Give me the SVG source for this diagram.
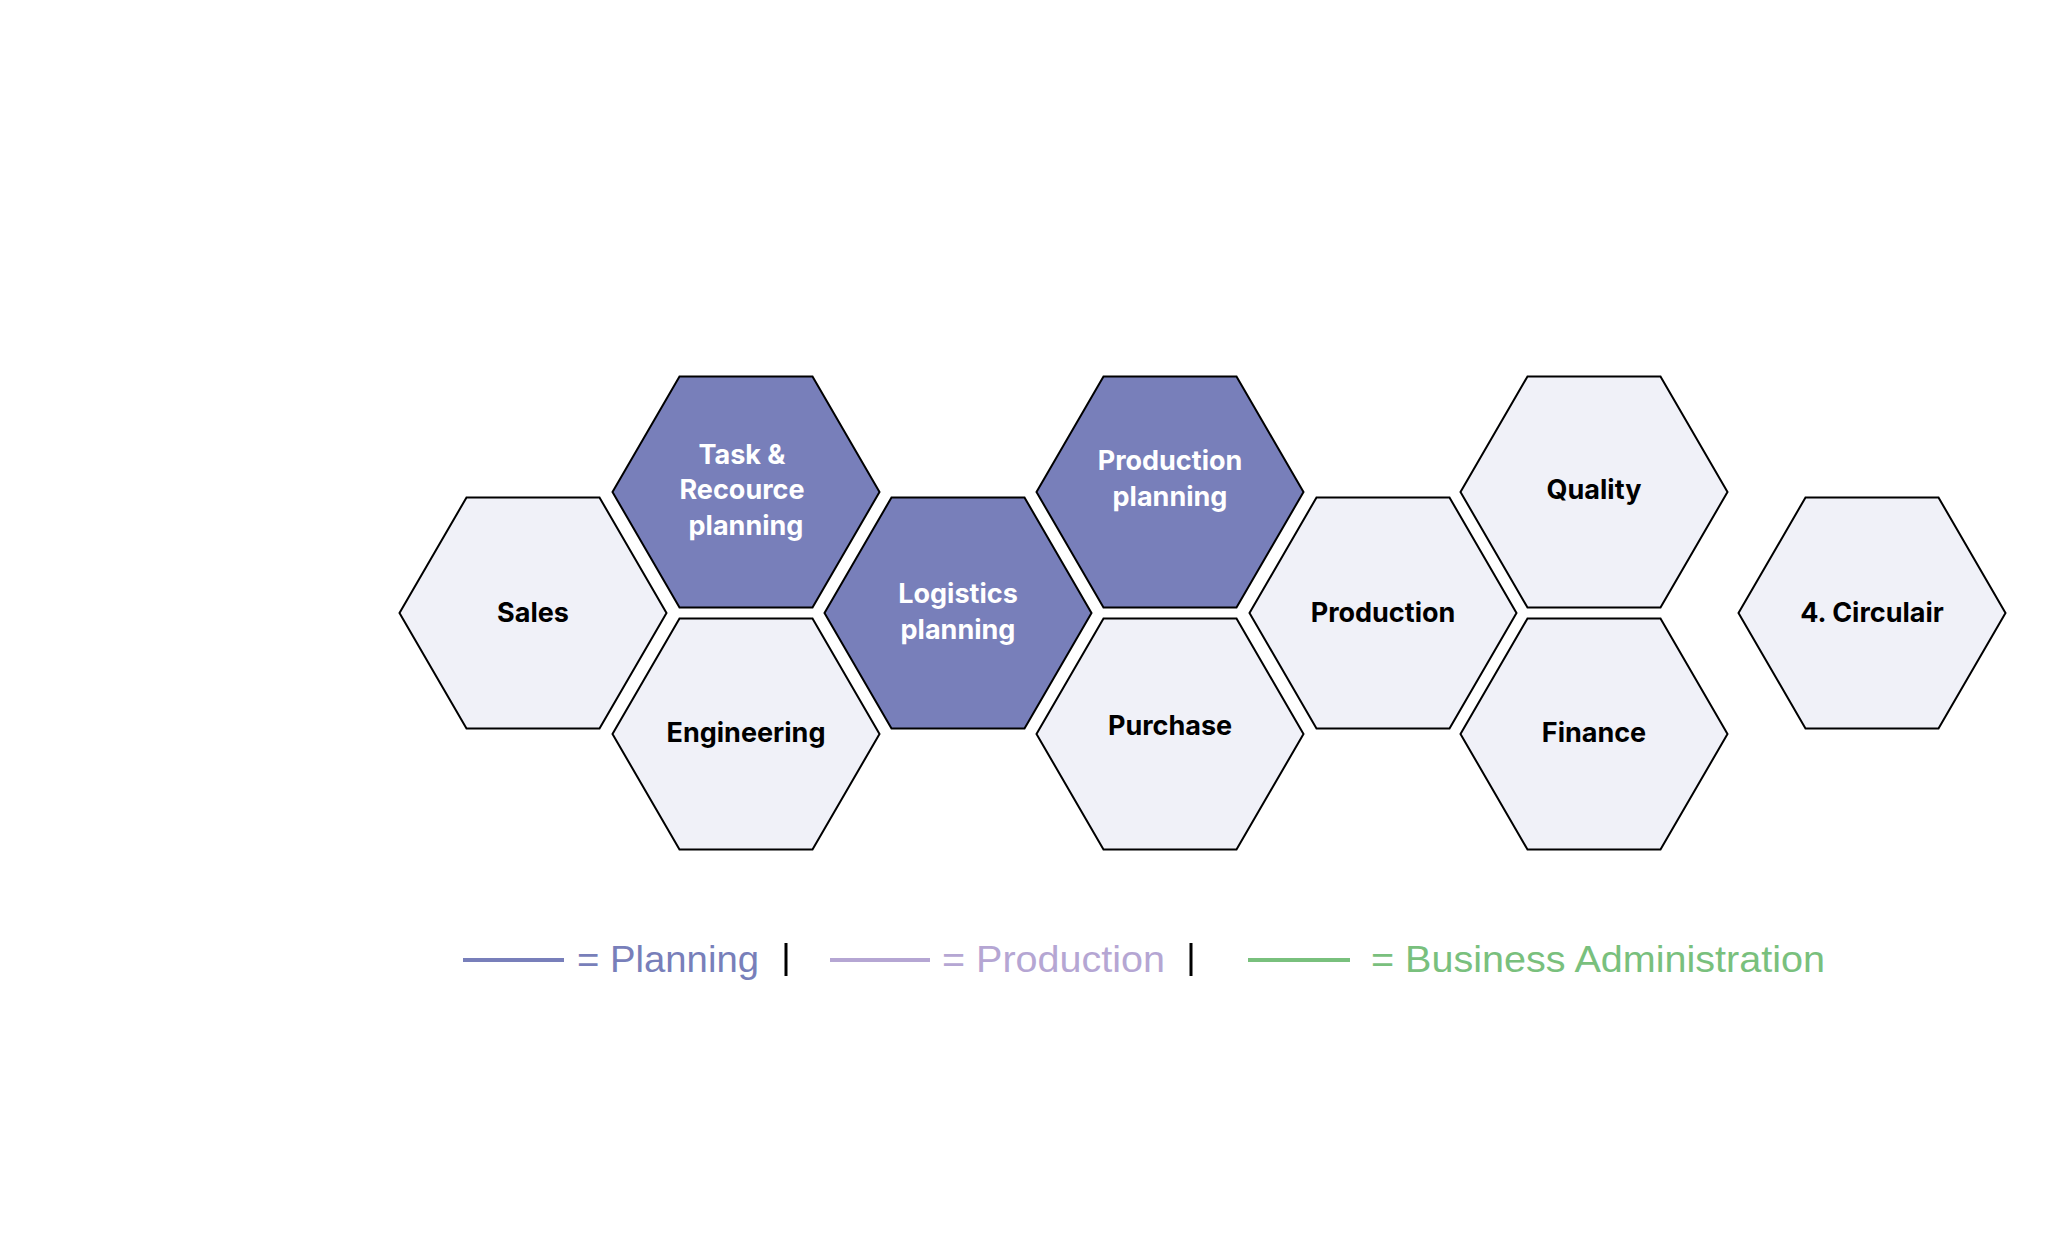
<svg xmlns="http://www.w3.org/2000/svg" width="2067" height="1241" viewBox="0 0 2067 1241">
<style>
.h{stroke:#000;stroke-width:2;stroke-linejoin:miter}
.l{fill:#f0f1f8}.d{fill:#787fba}
.t{font-family:Inter,"Liberation Sans",sans-serif;font-weight:700;font-size:27px;text-anchor:middle}
.tb{fill:#000}.tw{fill:#fff}
.lg{font-family:"Liberation Sans",sans-serif;font-size:37px}
</style>
<defs><polygon id="hx" points="-133.5,0 -66.5,-115.5 66.5,-115.5 133.5,0 66.5,115.5 -66.5,115.5"/></defs>
<rect width="2067" height="1241" fill="#fff"/>
<g id="sales"><use href="#hx" x="533" y="613" class="h l"/><text class="t tb" x="533" y="622">Sales</text></g>
<g id="task"><use href="#hx" x="746" y="492" class="h d"/><text class="t tw" x="746"><tspan x="742" y="464">Task &amp;</tspan><tspan x="742" y="499">Recource</tspan><tspan x="746" y="535">planning</tspan></text></g>
<g id="engineering"><use href="#hx" x="746" y="734" class="h l"/><text class="t tb" x="746" y="742">Engineering</text></g>
<g id="logistics"><use href="#hx" x="958" y="613" class="h d"/><text class="t tw"><tspan x="958" y="603">Logistics</tspan><tspan x="958" y="639">planning</tspan></text></g>
<g id="prodplanning"><use href="#hx" x="1170" y="492" class="h d"/><text class="t tw"><tspan x="1170" y="470">Production</tspan><tspan x="1170" y="506">planning</tspan></text></g>
<g id="purchase"><use href="#hx" x="1170" y="734" class="h l"/><text class="t tb" x="1170" y="735">Purchase</text></g>
<g id="production"><use href="#hx" x="1383" y="613" class="h l"/><text class="t tb" x="1383" y="622">Production</text></g>
<g id="quality"><use href="#hx" x="1594" y="492" class="h l"/><text class="t tb" x="1594" y="499">Quality</text></g>
<g id="finance"><use href="#hx" x="1594" y="734" class="h l"/><text class="t tb" x="1594" y="742">Finance</text></g>
<g id="circulair"><use href="#hx" x="1872" y="613" class="h l"/><text class="t tb" x="1872" y="622">4. Circulair</text></g>
<g id="legend">
<line x1="463" y1="960" x2="564" y2="960" stroke="#787fba" stroke-width="4"/>
<text class="lg" x="577" y="972" fill="#787fba" textLength="182" lengthAdjust="spacingAndGlyphs">= Planning</text>
<line x1="786" y1="943" x2="786" y2="976" stroke="#000" stroke-width="3"/>
<line x1="830" y1="960" x2="930" y2="960" stroke="#b5a6d3" stroke-width="4"/>
<text class="lg" x="942" y="972" fill="#b5a6d3" textLength="223" lengthAdjust="spacingAndGlyphs">= Production</text>
<line x1="1191" y1="943" x2="1191" y2="976" stroke="#000" stroke-width="3"/>
<line x1="1248" y1="960" x2="1350" y2="960" stroke="#79c07d" stroke-width="4"/>
<text class="lg" x="1371" y="972" fill="#79c07d" textLength="454" lengthAdjust="spacingAndGlyphs">= Business Administration</text>
</g>
</svg>
